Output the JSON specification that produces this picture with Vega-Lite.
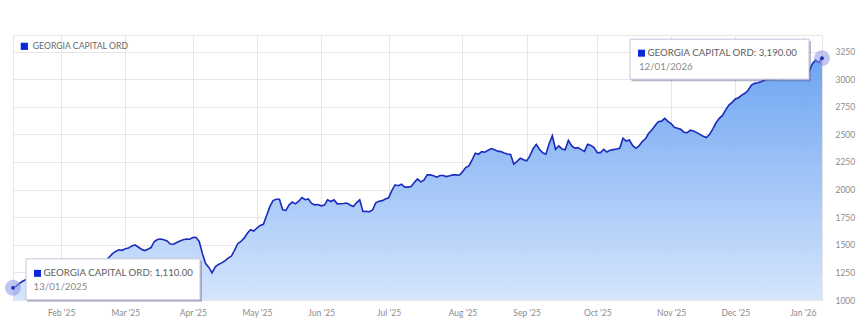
{
  "$schema": "https://vega.github.io/schema/vega-lite/v6.json",
  "autosize": {"type": "none"},
  "width": 809,
  "height": 265,
  "padding": {"left": 13, "top": 35, "right": 45, "bottom": 36},
  "background": "#ffffff",
  "config": {
    "font": "Lato",
    "view": {"stroke": "#e6e6e6"},
    "legend": {
      "orient": "top-left", "offset": 7, "padding": 0,
      "labelFont": "Lato", "labelFontSize": 8.7, "labelColor": "#6a6a6a",
      "symbolSize": 52, "labelOffset": 4, "title": null
    }
  },
  "datasets": {
    "main": [
      {"d":"2025-01-13","v":1110},{"d":"2025-01-14","v":1125},{"d":"2025-01-15","v":1150},{"d":"2025-01-16","v":1170},{"d":"2025-01-17","v":1185},
      {"d":"2025-01-20","v":1180},{"d":"2025-01-21","v":1195},{"d":"2025-01-22","v":1200},{"d":"2025-01-23","v":1190},{"d":"2025-01-24","v":1210},
      {"d":"2025-01-27","v":1215},{"d":"2025-01-28","v":1205},{"d":"2025-01-29","v":1220},{"d":"2025-01-30","v":1235},{"d":"2025-01-31","v":1230},
      {"d":"2025-02-03","v":1245},{"d":"2025-02-04","v":1250},{"d":"2025-02-05","v":1240},{"d":"2025-02-06","v":1260},{"d":"2025-02-07","v":1270},
      {"d":"2025-02-10","v":1265},{"d":"2025-02-11","v":1280},{"d":"2025-02-12","v":1290},{"d":"2025-02-13","v":1285},{"d":"2025-02-14","v":1300},
      {"d":"2025-02-17","v":1310},{"d":"2025-02-18","v":1305},{"d":"2025-02-19","v":1320},{"d":"2025-02-20","v":1340},{"d":"2025-02-21","v":1360},
      {"d":"2025-02-24","v":1390},{"d":"2025-02-25","v":1420},{"d":"2025-02-26","v":1440},{"d":"2025-02-27","v":1455},{"d":"2025-02-28","v":1450},
      {"d":"2025-03-03","v":1465},{"d":"2025-03-04","v":1470},{"d":"2025-03-05","v":1490},{"d":"2025-03-06","v":1500},{"d":"2025-03-07","v":1480},
      {"d":"2025-03-10","v":1460},{"d":"2025-03-11","v":1448},{"d":"2025-03-12","v":1460},{"d":"2025-03-13","v":1475},{"d":"2025-03-14","v":1530},
      {"d":"2025-03-17","v":1548},{"d":"2025-03-18","v":1552},{"d":"2025-03-19","v":1545},{"d":"2025-03-20","v":1535},{"d":"2025-03-21","v":1507},
      {"d":"2025-03-24","v":1505},{"d":"2025-03-25","v":1520},{"d":"2025-03-26","v":1535},{"d":"2025-03-27","v":1545},{"d":"2025-03-28","v":1552},
      {"d":"2025-03-31","v":1550},{"d":"2025-04-01","v":1565},{"d":"2025-04-02","v":1568},{"d":"2025-04-03","v":1530},{"d":"2025-04-04","v":1420},
      {"d":"2025-04-07","v":1330},{"d":"2025-04-08","v":1295},{"d":"2025-04-09","v":1246},{"d":"2025-04-10","v":1300},{"d":"2025-04-11","v":1322},
      {"d":"2025-04-14","v":1336},{"d":"2025-04-15","v":1355},{"d":"2025-04-16","v":1380},{"d":"2025-04-17","v":1396},{"d":"2025-04-22","v":1450},
      {"d":"2025-04-23","v":1510},{"d":"2025-04-24","v":1530},{"d":"2025-04-25","v":1560},{"d":"2025-04-28","v":1605},{"d":"2025-04-29","v":1637},
      {"d":"2025-04-30","v":1625},{"d":"2025-05-01","v":1652},{"d":"2025-05-02","v":1675},{"d":"2025-05-06","v":1685},{"d":"2025-05-07","v":1765},
      {"d":"2025-05-08","v":1845},{"d":"2025-05-09","v":1900},{"d":"2025-05-12","v":1912},{"d":"2025-05-13","v":1912},{"d":"2025-05-14","v":1817},
      {"d":"2025-05-15","v":1811},{"d":"2025-05-16","v":1862},{"d":"2025-05-19","v":1887},{"d":"2025-05-20","v":1871},{"d":"2025-05-21","v":1895},
      {"d":"2025-05-22","v":1928},{"d":"2025-05-23","v":1908},{"d":"2025-05-27","v":1915},{"d":"2025-05-28","v":1875},{"d":"2025-05-29","v":1862},
      {"d":"2025-05-30","v":1865},{"d":"2025-06-02","v":1853},{"d":"2025-06-03","v":1860},{"d":"2025-06-04","v":1908},{"d":"2025-06-05","v":1892},
      {"d":"2025-06-06","v":1908},{"d":"2025-06-09","v":1871},{"d":"2025-06-10","v":1872},{"d":"2025-06-11","v":1874},{"d":"2025-06-12","v":1878},
      {"d":"2025-06-13","v":1860},{"d":"2025-06-16","v":1847},{"d":"2025-06-17","v":1880},{"d":"2025-06-18","v":1908},{"d":"2025-06-19","v":1802},
      {"d":"2025-06-20","v":1803},{"d":"2025-06-23","v":1799},{"d":"2025-06-24","v":1815},{"d":"2025-06-25","v":1880},{"d":"2025-06-26","v":1894},
      {"d":"2025-06-27","v":1900},{"d":"2025-06-30","v":1914},{"d":"2025-07-01","v":1925},{"d":"2025-07-02","v":1990},{"d":"2025-07-03","v":2043},
      {"d":"2025-07-04","v":2035},{"d":"2025-07-07","v":2049},{"d":"2025-07-08","v":2022},{"d":"2025-07-09","v":2022},{"d":"2025-07-10","v":2027},
      {"d":"2025-07-11","v":2064},{"d":"2025-07-14","v":2097},{"d":"2025-07-15","v":2070},{"d":"2025-07-16","v":2085},{"d":"2025-07-17","v":2133},
      {"d":"2025-07-18","v":2133},{"d":"2025-07-21","v":2125},{"d":"2025-07-22","v":2112},{"d":"2025-07-23","v":2127},{"d":"2025-07-24","v":2127},
      {"d":"2025-07-25","v":2118},{"d":"2025-07-28","v":2125},{"d":"2025-07-29","v":2133},{"d":"2025-07-30","v":2133},{"d":"2025-07-31","v":2130},
      {"d":"2025-08-01","v":2160},{"d":"2025-08-04","v":2200},{"d":"2025-08-05","v":2215},{"d":"2025-08-06","v":2270},{"d":"2025-08-07","v":2330},
      {"d":"2025-08-08","v":2320},{"d":"2025-08-11","v":2343},{"d":"2025-08-12","v":2338},{"d":"2025-08-13","v":2357},{"d":"2025-08-14","v":2372},
      {"d":"2025-08-15","v":2360},{"d":"2025-08-18","v":2348},{"d":"2025-08-19","v":2344},{"d":"2025-08-20","v":2332},{"d":"2025-08-21","v":2322},
      {"d":"2025-08-22","v":2318},{"d":"2025-08-26","v":2230},{"d":"2025-08-27","v":2255},{"d":"2025-08-28","v":2284},{"d":"2025-08-29","v":2270},
      {"d":"2025-09-01","v":2260},{"d":"2025-09-02","v":2305},{"d":"2025-09-03","v":2370},{"d":"2025-09-04","v":2410},{"d":"2025-09-05","v":2365},
      {"d":"2025-09-08","v":2333},{"d":"2025-09-09","v":2320},{"d":"2025-09-10","v":2415},{"d":"2025-09-11","v":2488},{"d":"2025-09-12","v":2365},
      {"d":"2025-09-15","v":2395},{"d":"2025-09-16","v":2368},{"d":"2025-09-17","v":2360},{"d":"2025-09-18","v":2445},{"d":"2025-09-19","v":2398},
      {"d":"2025-09-22","v":2376},{"d":"2025-09-23","v":2380},{"d":"2025-09-24","v":2362},{"d":"2025-09-25","v":2346},{"d":"2025-09-26","v":2410},
      {"d":"2025-09-29","v":2400},{"d":"2025-09-30","v":2380},{"d":"2025-10-01","v":2335},{"d":"2025-10-02","v":2335},{"d":"2025-10-03","v":2365},
      {"d":"2025-10-06","v":2340},{"d":"2025-10-07","v":2357},{"d":"2025-10-08","v":2362},{"d":"2025-10-09","v":2367},{"d":"2025-10-10","v":2374},
      {"d":"2025-10-13","v":2465},{"d":"2025-10-14","v":2440},{"d":"2025-10-15","v":2449},{"d":"2025-10-16","v":2400},{"d":"2025-10-17","v":2374},
      {"d":"2025-10-20","v":2395},{"d":"2025-10-21","v":2435},{"d":"2025-10-22","v":2460},{"d":"2025-10-23","v":2510},{"d":"2025-10-24","v":2540},
      {"d":"2025-10-27","v":2580},{"d":"2025-10-28","v":2615},{"d":"2025-10-29","v":2620},{"d":"2025-10-30","v":2645},{"d":"2025-10-31","v":2618},
      {"d":"2025-11-03","v":2598},{"d":"2025-11-04","v":2564},{"d":"2025-11-05","v":2555},{"d":"2025-11-06","v":2546},{"d":"2025-11-07","v":2520},
      {"d":"2025-11-10","v":2515},{"d":"2025-11-11","v":2538},{"d":"2025-11-12","v":2530},{"d":"2025-11-13","v":2516},{"d":"2025-11-14","v":2500},
      {"d":"2025-11-17","v":2482},{"d":"2025-11-18","v":2472},{"d":"2025-11-19","v":2500},{"d":"2025-11-20","v":2550},{"d":"2025-11-21","v":2605},
      {"d":"2025-11-24","v":2645},{"d":"2025-11-25","v":2672},{"d":"2025-11-26","v":2722},{"d":"2025-11-27","v":2765},{"d":"2025-11-28","v":2790},
      {"d":"2025-12-01","v":2820},{"d":"2025-12-02","v":2832},{"d":"2025-12-03","v":2855},{"d":"2025-12-04","v":2872},{"d":"2025-12-05","v":2900},
      {"d":"2025-12-08","v":2946},{"d":"2025-12-09","v":2962},{"d":"2025-12-10","v":2967},{"d":"2025-12-11","v":2976},{"d":"2025-12-12","v":2990},
      {"d":"2025-12-15","v":3005},{"d":"2025-12-16","v":3000},{"d":"2025-12-17","v":2998},{"d":"2025-12-18","v":3010},{"d":"2025-12-19","v":3005},
      {"d":"2025-12-22","v":3000},{"d":"2025-12-23","v":3012},{"d":"2025-12-24","v":3008},{"d":"2025-12-29","v":3015},{"d":"2025-12-30","v":3010},
      {"d":"2025-12-31","v":3020},{"d":"2026-01-02","v":3030},{"d":"2026-01-05","v":3050},{"d":"2026-01-06","v":3070},{"d":"2026-01-07","v":3140},
      {"d":"2026-01-08","v":3172},{"d":"2026-01-09","v":3150},{"d":"2026-01-12","v":3190}
    ],
    "ann": [
      {"d":"2025-01-13","v":1110,"t":"GEORGIA CAPITAL ORD: 1,110.00","s":"13/01/2025"},
      {"d":"2026-01-12","v":3190,"t":"GEORGIA CAPITAL ORD: 3,190.00","s":"12/01/2026"}
    ]
  },
  "encoding": {
    "x": {
      "field": "d", "type": "ordinal",
      "scale": {"type": "point", "padding": 0},
      "axis": {
        "title": null, "labelAngle": 0, "ticks": false, "domain": false,
        "grid": true, "gridColor": "#e6e6e6", "gridWidth": 1,
        "values": ["2025-02-03","2025-03-03","2025-04-01","2025-05-01","2025-06-02","2025-07-01","2025-08-01","2025-09-01","2025-10-01","2025-11-03","2025-12-01","2026-01-02"],
        "labelExpr": "utcFormat(toDate(datum.value), \"%b '%y\")",
        "labelFont": "Lato", "labelFontSize": 8.5, "labelColor": "#8c8c8c", "labelPadding": 8
      }
    },
    "y": {
      "field": "v", "type": "quantitative",
      "scale": {"domain": [1000, 3400], "nice": false, "zero": false},
      "axis": {
        "title": null, "orient": "right", "ticks": false, "domain": false,
        "grid": true, "gridColor": "#e6e6e6",
        "values": [1000,1250,1500,1750,2000,2250,2500,2750,3000,3250],
        "format": "d", "labelAlign": "left", "labelPadding": 13,
        "labelFont": "Lato", "labelFontSize": 8.5, "labelColor": "#8c8c8c"
      }
    }
  },
  "layer": [
    {
      "data": {"name": "main"},
      "mark": {
        "type": "area", "fillOpacity": 0.88,
        "color": {"gradient": "linear", "x1": 0, "y1": 0, "x2": 0, "y2": 1,
          "stops": [{"offset": 0, "color": "#5a98f0"}, {"offset": 1, "color": "#cfe2fc"}]}
      },
      "encoding": {"y2": {"datum": 1000}}
    },
    {
      "data": {"name": "main"},
      "mark": {"type": "line", "strokeWidth": 1.6},
      "encoding": {
        "color": {
          "datum": "GEORGIA CAPITAL ORD",
          "scale": {"range": ["#1a2bbd"]},
          "legend": {
            "encode": {"symbols": {"update": {
              "fill": {"value": "#0b28d9"}, "stroke": {"value": "#0b28d9"},
              "strokeWidth": {"value": 0}, "shape": {"value": "square"}, "opacity": {"value": 1}
            }}}
          }
        }
      }
    },
    {
      "data": {"name": "ann"},
      "mark": {"type": "point", "shape": "circle", "filled": true, "size": 256, "color": "#8e98e6", "opacity": 0.55}
    },
    {
      "data": {"name": "ann"},
      "mark": {"type": "point", "shape": "circle", "filled": true, "size": 14, "color": "#1a2bbd", "opacity": 1}
    },
    {
      "data": {"name": "ann"},
      "transform": [{"filter": "datum.d == '2025-01-13'"}],
      "mark": {"type": "point", "filled": true, "size": 4, "shape": "M14.5,-27H189V14H14.5Z", "color": "#5a5e8c", "opacity": 0.45, "strokeWidth": 0}
    },
    {
      "data": {"name": "ann"},
      "transform": [{"filter": "datum.d == '2025-01-13'"}],
      "mark": {"type": "point", "filled": true, "size": 4, "shape": "M13,-29H187V12H13Z", "fill": "#ffffff", "stroke": "#c3c6dc", "strokeWidth": 1, "opacity": 1}
    },
    {
      "data": {"name": "ann"},
      "transform": [{"filter": "datum.d == '2025-01-13'"}],
      "mark": {"type": "point", "filled": true, "size": 4, "shape": "M21,-18H28V-11H21Z", "color": "#0b28d9", "opacity": 1, "strokeWidth": 0}
    },
    {
      "data": {"name": "ann"},
      "transform": [{"filter": "datum.d == '2025-01-13'"}],
      "mark": {"type": "text", "align": "left", "baseline": "middle", "dx": 30.5, "dy": -14.5, "font": "Lato", "fontSize": 9.7, "color": "#5e5e5e"},
      "encoding": {"text": {"field": "t"}}
    },
    {
      "data": {"name": "ann"},
      "transform": [{"filter": "datum.d == '2025-01-13'"}],
      "mark": {"type": "text", "align": "left", "baseline": "middle", "dx": 20.6, "dy": -1.3, "font": "Lato", "fontSize": 9.7, "color": "#8a8a8a"},
      "encoding": {"text": {"field": "s"}}
    },
    {
      "data": {"name": "ann"},
      "transform": [{"filter": "datum.d == '2026-01-12'"}],
      "mark": {"type": "point", "filled": true, "size": 4, "shape": "M-190.5,-17H-11V23H-190.5Z", "color": "#5a5e8c", "opacity": 0.45, "strokeWidth": 0}
    },
    {
      "data": {"name": "ann"},
      "transform": [{"filter": "datum.d == '2026-01-12'"}],
      "mark": {"type": "point", "filled": true, "size": 4, "shape": "M-192,-19H-13V21H-192Z", "fill": "#ffffff", "stroke": "#c3c6dc", "strokeWidth": 1, "opacity": 1}
    },
    {
      "data": {"name": "ann"},
      "transform": [{"filter": "datum.d == '2026-01-12'"}],
      "mark": {"type": "point", "filled": true, "size": 4, "shape": "M-184,-8.5H-177V-1.5H-184Z", "color": "#0b28d9", "opacity": 1, "strokeWidth": 0}
    },
    {
      "data": {"name": "ann"},
      "transform": [{"filter": "datum.d == '2026-01-12'"}],
      "mark": {"type": "text", "align": "left", "baseline": "middle", "dx": -174.5, "dy": -5, "font": "Lato", "fontSize": 9.7, "color": "#5e5e5e"},
      "encoding": {"text": {"field": "t"}}
    },
    {
      "data": {"name": "ann"},
      "transform": [{"filter": "datum.d == '2026-01-12'"}],
      "mark": {"type": "text", "align": "left", "baseline": "middle", "dx": -183, "dy": 8.8, "font": "Lato", "fontSize": 9.7, "color": "#8a8a8a"},
      "encoding": {"text": {"field": "s"}}
    }
  ]
}
